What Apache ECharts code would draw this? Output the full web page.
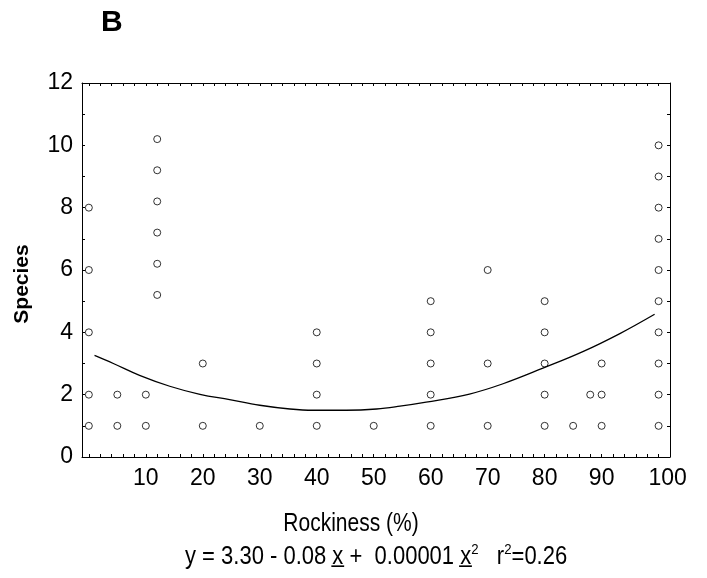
<!DOCTYPE html>
<html>
<head>
<meta charset="utf-8">
<script src="https://cdn.jsdelivr.net/npm/echarts@6/dist/echarts.min.js"></script>
<style>html,body{margin:0;padding:0;background:#fff}#c{width:707px;height:578px}</style>
</head>
<body>
<div id="c"></div>
<script>
// Scatter observations (Rockiness %, Species)
const pointX = [0,0,0,0,0, 5,5, 10,10, 12,12,12,12,12,12, 20,20, 30, 40,40,40,40, 50,
                60,60,60,60,60, 70,70,70, 80,80,80,80,80, 85, 88, 90,90,90,
                100,100,100,100,100,100,100,100,100,100];
const pointY = [8,6,4,2,1, 2,1, 2,1, 10.2,9.2,8.2,7.2,6.2,5.2, 3,1, 1, 4,3,2,1, 1,
                5,4,3,2,1, 6,3,1, 5,4,3,2,1, 1, 2, 3,2,1,
                10,9,8,7,6,5,4,3,2,1];
// Fitted curve
const curveX = [1, 4.3, 8.9, 14.2, 19.5, 24.7, 30, 35.3, 39.4, 45.2, 50.5, 54.6, 59.2, 66.8, 72.7, 79.7, 86.7, 93.2, 99.3];
const curveY = [3.26, 3.0, 2.62, 2.27, 2.01, 1.84, 1.66, 1.54, 1.50, 1.50, 1.54, 1.63, 1.76, 2.02, 2.35, 2.85, 3.38, 3.96, 4.58];
// Tick values
const xTickMinor = [0,2,4,6,8,10,12,14,16,18,20,22,24,26,28,30,32,34,36,38,40,42,44,46,48,50,52,54,56,58,60,62,64,66,68,70,72,74,76,78,80,82,84,86,88,90,92,94,96,98,100];
const xTickLabels = [10,20,30,40,50,60,70,80,90,100];
const yTickLabels = [0,2,4,6,8,10,12];

const FONT = "'Liberation Sans', Arial, sans-serif";
const chart = echarts.init(document.getElementById('c'), null, {renderer: 'canvas'});

const axisLineStyle = {show: true, onZero: false, lineStyle: {color: '#000', width: 1}};
const xBase = {
  type: 'value', min: -1.2, max: 102,
  axisLine: axisLineStyle,
  splitLine: {show: false},
  axisTick: {show: true, inside: true, length: 3, customValues: xTickMinor, lineStyle: {color: '#000', width: 1}}
};
const yBase = {
  type: 'value', min: 0, max: 12, interval: 1,
  axisLine: axisLineStyle, splitLine: {show: false},
  axisTick: {show: true, inside: true, length: 3, lineStyle: {color: '#000'}}
};

chart.setOption({
  animation: false,
  backgroundColor: '#fff',
  grid: {left: 82, top: 83, right: 37, bottom: 121},
  xAxis: [
    Object.assign({}, xBase, {
      position: 'bottom',
      axisLabel: {
        customValues: xTickLabels, color: '#000', fontSize: 23, fontFamily: FONT, margin: 10,
        formatter: function (v) { return v === 100 ? '{r|100}' : String(v); },
        rich: {r: {fontSize: 23, fontFamily: FONT, color: '#000', padding: [0, 0, 0, 18]}}
      }
    }),
    Object.assign({}, xBase, {position: 'top', axisLabel: {show: false}})
  ],
  yAxis: [
    Object.assign({}, yBase, {
      position: 'left',
      axisLabel: {customValues: yTickLabels, color: '#000', fontSize: 23, fontFamily: FONT, margin: 9}
    }),
    Object.assign({}, yBase, {position: 'right', axisLabel: {show: false}})
  ],
  series: [
    {
      type: 'scatter', xAxisIndex: 0, yAxisIndex: 0, z: 2,
      symbol: 'circle', symbolSize: 7,
      itemStyle: {color: '#fff', borderColor: '#000', borderWidth: 1},
      data: pointX.map((x, i) => [x, pointY[i]])
    },
    {
      type: 'line', xAxisIndex: 0, yAxisIndex: 0, z: 3,
      showSymbol: false, symbol: 'none', smooth: 0.4,
      lineStyle: {color: '#000', width: 1.3},
      data: curveX.map((x, i) => [x, curveY[i]])
    }
  ],
  graphic: [
    {type: 'text', x: 101, y: 23, style: {text: 'B', font: 'bold 30px ' + FONT, fill: '#000', verticalAlign: 'middle', align: 'left'}},
    {type: 'text', x: 22, y: 284, rotation: Math.PI / 2, style: {text: 'Species', font: 'bold 21px ' + FONT, fill: '#000', verticalAlign: 'middle', align: 'center'}},
    {type: 'text', x: 351, y: 524, scaleX: 0.84, style: {text: 'Rockiness (%)', font: '25px ' + FONT, fill: '#000', verticalAlign: 'middle', align: 'center'}},
    {type: 'text', x: 185, y: 557, scaleX: 0.88, style: {
      text: '{m|y = 3.30 - 0.08 }{m|x\u0332}{m| +  0.00001 }{m|x\u0332}{s|2}{m|   r}{s|2}{m|=0.26}',
      verticalAlign: 'middle', align: 'left',
      rich: {
        m: {fontSize: 25, fontFamily: FONT, color: '#000', lineHeight: 30},
        s: {fontSize: 15, fontFamily: FONT, color: '#000', verticalAlign: 'top', lineHeight: 16}
      }
    }}
  ]
});
</script>
</body>
</html>
